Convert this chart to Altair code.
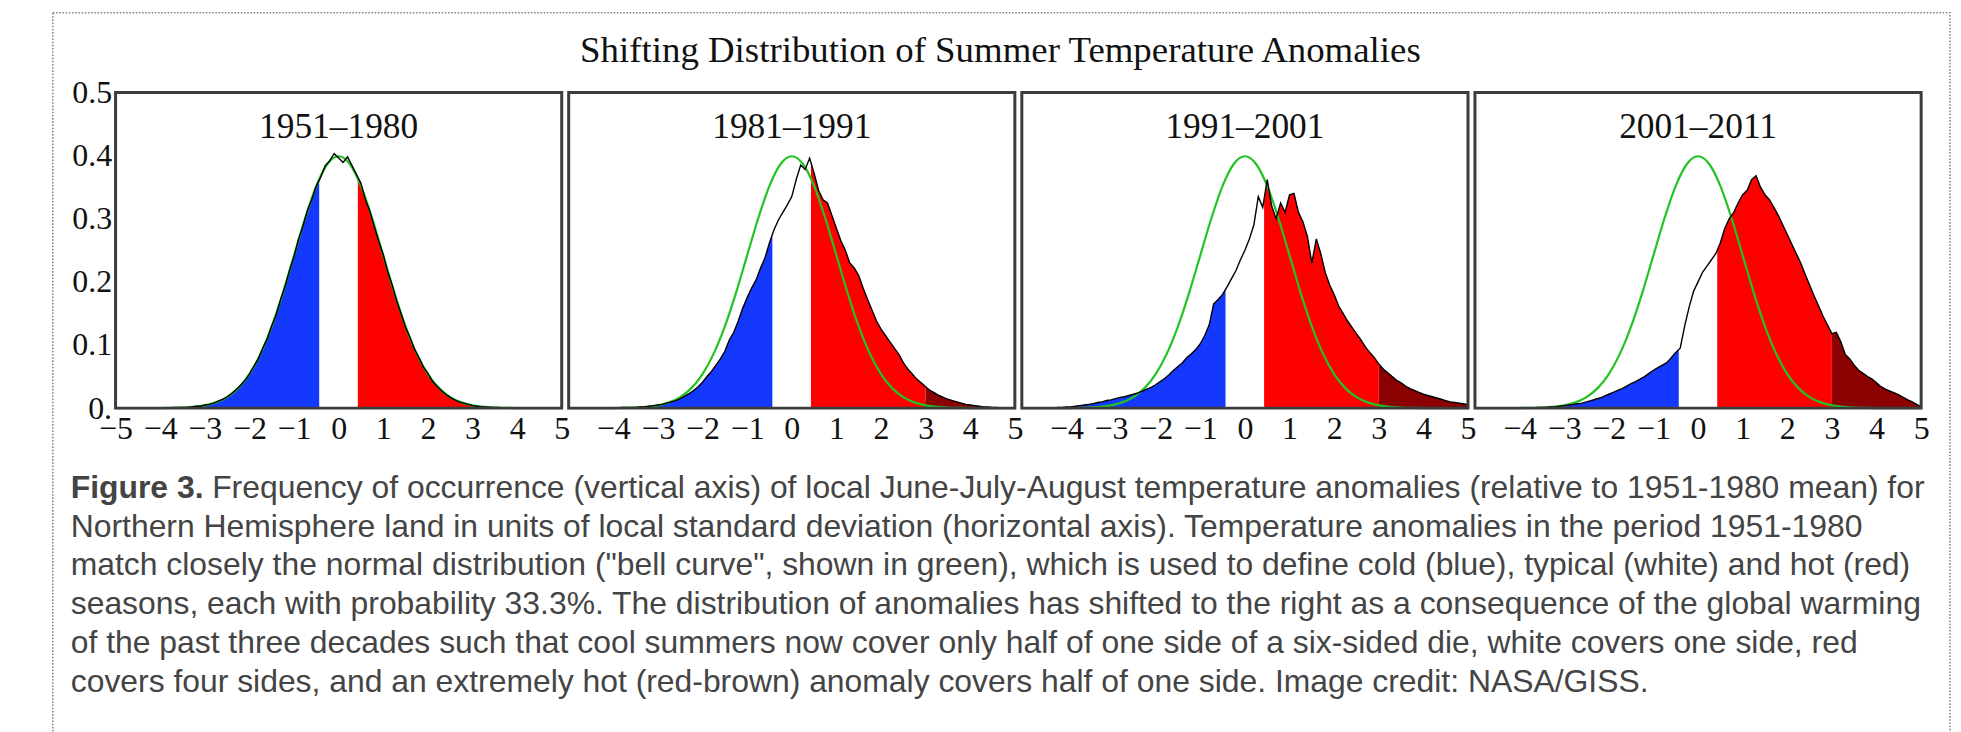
import altair as alt
import pandas as pd

SERIF = "Liberation Serif"
SANS = "Liberation Sans"

# bin centres (standard deviations)
x_grid = [round(-5 + 0.1 * k, 1) for k in range(101)]

# frequency of occurrence (x = -5.0 ... 5.0 step 0.1)
p1951 = [0, 0, 0, 0, 0, 0, 0, 0, 0, 0, 0, 0, 0, 0.001, 0.001,
         0.001, 0.001, 0.002, 0.003, 0.003, 0.005,
         0.006, 0.008, 0.011, 0.014, 0.018, 0.023, 0.029, 0.036, 0.044, 0.054,
         0.066, 0.078, 0.095, 0.110, 0.130, 0.148, 0.172, 0.193, 0.218, 0.240,
         0.267, 0.288, 0.313, 0.331, 0.352, 0.366, 0.384, 0.392, 0.403, 0.396,
         0.389, 0.398, 0.384, 0.370, 0.356, 0.330, 0.312, 0.287, 0.264, 0.243,
         0.216, 0.195, 0.170, 0.149, 0.128, 0.112, 0.093, 0.080, 0.065, 0.055,
         0.043, 0.035, 0.028, 0.022, 0.017, 0.013, 0.010, 0.008, 0.006, 0.004,
         0.003, 0.002, 0.002, 0.001, 0.001, 0.001, 0, 0, 0, 0,
         0, 0, 0, 0, 0, 0, 0, 0, 0, 0]
p1981 = [0, 0, 0, 0, 0, 0, 0, 0, 0, 0, 0, 0, 0.001, 0.001, 0.001,
         0.001, 0.002, 0.002, 0.003, 0.004, 0.005,
         0.006, 0.008, 0.010, 0.012, 0.015, 0.019, 0.023, 0.028, 0.034, 0.041,
         0.050, 0.058, 0.068, 0.078, 0.090, 0.108, 0.120, 0.138, 0.158, 0.175,
         0.190, 0.203, 0.222, 0.238, 0.262, 0.282, 0.298, 0.310, 0.322, 0.335,
         0.362, 0.385, 0.378, 0.396, 0.372, 0.345, 0.330, 0.325, 0.305, 0.285,
         0.265, 0.250, 0.230, 0.222, 0.210, 0.190, 0.172, 0.155, 0.138, 0.125,
         0.115, 0.105, 0.095, 0.085, 0.072, 0.062, 0.054, 0.046, 0.040, 0.034,
         0.028, 0.024, 0.020, 0.017, 0.014, 0.012, 0.010, 0.008, 0.006, 0.005,
         0.004, 0.003, 0.002, 0.002, 0.001, 0.001, 0, 0, 0, 0]
p1991 = [0, 0, 0, 0, 0, 0, 0, 0, 0.001, 0.001, 0.002, 0.002, 0.003, 0.004, 0.005,
         0.006, 0.007, 0.009, 0.010, 0.012, 0.013,
         0.015, 0.017, 0.018, 0.020, 0.022, 0.024, 0.027, 0.030, 0.033, 0.037,
         0.042, 0.047, 0.053, 0.060, 0.066, 0.072, 0.080, 0.086, 0.093, 0.102,
         0.115, 0.132, 0.165, 0.172, 0.180, 0.192, 0.205, 0.218, 0.235, 0.250,
         0.268, 0.290, 0.335, 0.318, 0.362, 0.320, 0.300, 0.325, 0.310, 0.338,
         0.340, 0.310, 0.295, 0.272, 0.230, 0.268, 0.245, 0.215, 0.195, 0.180,
         0.162, 0.150, 0.138, 0.128, 0.118, 0.108, 0.097, 0.088, 0.080, 0.070,
         0.062, 0.056, 0.050, 0.044, 0.040, 0.035, 0.031, 0.028, 0.025, 0.022,
         0.020, 0.018, 0.016, 0.014, 0.012, 0.010, 0.009, 0.008, 0.007, 0.005]
p2001 = [0, 0, 0, 0, 0, 0, 0, 0, 0, 0, 0, 0, 0, 0, 0.001,
         0.001, 0.001, 0.002, 0.002, 0.003, 0.004,
         0.005, 0.006, 0.007, 0.008, 0.010, 0.012, 0.014, 0.016, 0.019, 0.022,
         0.025, 0.028, 0.031, 0.035, 0.039, 0.042, 0.046, 0.050, 0.055, 0.060,
         0.064, 0.068, 0.072, 0.080, 0.088, 0.095, 0.130, 0.160, 0.185, 0.200,
         0.215, 0.225, 0.235, 0.245, 0.262, 0.285, 0.300, 0.310, 0.325, 0.338,
         0.345, 0.362, 0.368, 0.350, 0.338, 0.330, 0.318, 0.305, 0.290, 0.275,
         0.260, 0.245, 0.230, 0.212, 0.195, 0.178, 0.162, 0.146, 0.132, 0.118,
         0.120, 0.105, 0.085, 0.078, 0.068, 0.060, 0.055, 0.050, 0.046, 0.040,
         0.034, 0.030, 0.027, 0.024, 0.021, 0.017, 0.013, 0.010, 0.006, 0.002]
series = [p1951, p1981, p1991, p2001]

# green reference bell curve
green_x = [-5, -4.75, -4.5, -4.25, -4, -3.75, -3.5, -3.25, -3, -2.75, -2.5, -2.25, -2,
           -1.75, -1.5, -1.25, -1, -0.75, -0.5, -0.25, 0, 0.25, 0.5, 0.75, 1, 1.25,
           1.5, 1.75, 2, 2.25, 2.5, 2.75, 3, 3.25, 3.5, 3.75, 4, 4.25, 4.5, 4.75, 5]
green_y = [0, 0, 0, 0, 0.0001, 0.0004, 0.0009, 0.002, 0.0044, 0.0091, 0.0175, 0.0317,
           0.054, 0.0863, 0.1295, 0.1826, 0.242, 0.3011, 0.3521, 0.3867, 0.3989,
           0.3867, 0.3521, 0.3011, 0.242, 0.1826, 0.1295, 0.0863, 0.054, 0.0317,
           0.0175, 0.0091, 0.0044, 0.002, 0.0009, 0.0004, 0.0001, 0, 0, 0, 0]

period_labels = ["1951\u20131980", "1981\u20131991", "1991\u20132001", "2001\u20132011"]
x_labels_first = [-5, -4, -3, -2, -1, 0, 1, 2, 3, 4, 5]
x_labels_rest = [-4, -3, -2, -1, 0, 1, 2, 3, 4, 5]
y_labels = [0, 0.1, 0.2, 0.3, 0.4, 0.5]
inner_x_ticks = [-4, -3, -2, -1, 0, 1, 2, 3, 4]
inner_y_ticks = [0.1, 0.2, 0.3, 0.4]

band_lo = [-5, -0.43, 0.43, 3]
band_hi = [-0.43, 0.43, 3, 5]
band_colors = ["#1538ff", "#ffffff", "#ff0000", "#8b0000"]

title_text = "Shifting Distribution of Summer Temperature Anomalies"
caption_bold = "Figure 3."
caption_lines = [
    "Frequency of occurrence (vertical axis) of local June-July-August temperature anomalies (relative to 1951-1980 mean) for",
    "Northern Hemisphere land in units of local standard deviation (horizontal axis). Temperature anomalies in the period 1951-1980",
    "match closely the normal distribution (\"bell curve\", shown in green), which is used to define cold (blue), typical (white) and hot (red)",
    "seasons, each with probability 33.3%. The distribution of anomalies has shifted to the right as a consequence of the global warming",
    "of the past three decades such that cool summers now cover only half of one side of a six-sided die, white covers one side, red",
    "covers four sides, and an extremely hot (red-brown) anomaly covers half of one side. Image credit: NASA/GISS.",
]

PW, PH = 448, 317
TICK = 7
TICK_COLOR = "#777"
CAP_FS = 32

xs = alt.Scale(domain=[-5, 5], nice=False, zero=False)
ys = alt.Scale(domain=[0, 0.5], nice=False, zero=False)

bands_df = pd.DataFrame({"x0": band_lo, "x1": band_hi, "c": band_colors,
                         "y0": [0] * 4, "y1": [0.5] * 4})
green_df = pd.DataFrame({"gx": green_x, "gy": green_y})


def tick_axis(orient, values):
    return alt.Axis(orient=orient, values=values, labels=False, domain=False, grid=False,
                    ticks=True, tickSize=TICK, offset=-TICK, tickColor=TICK_COLOR,
                    tickWidth=1.5, title=None)


def panel(i):
    df = pd.DataFrame({"x": x_grid, "y": series[i]})
    xlab = alt.Axis(orient="bottom", values=(x_labels_first if i == 0 else x_labels_rest),
                    ticks=False, domain=False, grid=False, labelFont=SERIF,
                    labelFontSize=32, labelColor="#111", labelPadding=5,
                    labelFlush=False, labelOverlap=False, format="d", title=None)
    if i == 0:
        ylab = alt.Axis(orient="left", values=y_labels, ticks=False, domain=False, grid=False,
                        labelFont=SERIF, labelFontSize=32, labelColor="#111", labelPadding=4,
                        labelExpr="datum.value == 0 ? '0.' : format(datum.value, '.1f')",
                        labelOverlap=False, labelFlush=False, title=None)
    else:
        ylab = None

    bands = alt.Chart(bands_df).mark_rect().encode(
        x=alt.X("x0:Q", scale=xs, axis=xlab),
        x2="x1:Q",
        y=alt.Y("y0:Q", scale=ys, axis=ylab),
        y2="y1:Q",
        color=alt.Color("c:N", scale=None),
    )
    mask = alt.Chart(df).mark_area(color="white", opacity=1).encode(
        x=alt.X("x:Q", scale=xs, axis=tick_axis("top", inner_x_ticks)),
        y=alt.Y("y:Q", scale=ys, axis=tick_axis("left", inner_y_ticks)),
        y2=alt.datum(0.5),
    )
    green = alt.Chart(green_df).mark_line(color="#22c322", strokeWidth=2.2,
                                          interpolate="monotone").encode(
        x=alt.X("gx:Q", scale=xs, axis=tick_axis("bottom", inner_x_ticks)),
        y=alt.Y("gy:Q", scale=ys, axis=tick_axis("right", inner_y_ticks)),
    )
    black = alt.Chart(df).mark_line(color="#000000", strokeWidth=1.4).encode(
        x=alt.X("x:Q", scale=xs, axis=None),
        y=alt.Y("y:Q", scale=ys, axis=None),
    )
    box = alt.Chart(pd.DataFrame({"k": [0]})).mark_rect(
        filled=False, fillOpacity=0, stroke="#3c3c3c", strokeWidth=3
    ).encode(x=alt.X(datum=-5, scale=xs, axis=None), x2=alt.datum(5),
             y=alt.Y(datum=0, scale=ys, axis=None), y2=alt.datum(0.5))
    lab = alt.Chart(pd.DataFrame({"t": [period_labels[i]]})).mark_text(
        font=SERIF, fontSize=35.5, color="#111", baseline="middle", align="center"
    ).encode(x=alt.X(datum=0, scale=xs, axis=None),
             y=alt.Y(datum=0.445, scale=ys, axis=None), text="t:N")

    return alt.layer(bands, mask, green, black, box, lab).resolve_axis(
        x="independent", y="independent"
    ).properties(width=PW, height=PH)


panels = alt.hconcat(*[panel(i) for i in range(4)], spacing=7, bounds="flush").properties(
    title=alt.TitleParams(title_text, font=SERIF, fontSize=37, fontWeight="normal",
                          color="#111", anchor="middle", offset=6)
)

CAP_H = 234
cap_scale = alt.Scale(domain=[0, 1, 2, 3, 4, 5], paddingInner=0, paddingOuter=0)
cap_df = pd.DataFrame({"i": list(range(6)), "t": caption_lines})
CX = -45

cap_bold = alt.Chart(pd.DataFrame({"i": [0], "t": [caption_bold]})).mark_text(
    font=SANS, fontSize=CAP_FS, fontWeight="bold", color="#444", align="left", baseline="middle"
).encode(x=alt.value(CX), y=alt.Y("i:O", scale=cap_scale, axis=None), text="t:N")
cap_first = alt.Chart(cap_df[cap_df.i == 0]).mark_text(
    font=SANS, fontSize=CAP_FS, color="#444", align="left", baseline="middle", dx=142
).encode(x=alt.value(CX), y=alt.Y("i:O", scale=cap_scale, axis=None), text="t:N")
cap_rest = alt.Chart(cap_df[cap_df.i > 0]).mark_text(
    font=SANS, fontSize=CAP_FS, color="#444", align="left", baseline="middle"
).encode(x=alt.value(CX), y=alt.Y("i:O", scale=cap_scale, axis=None), text="t:N")
frame = alt.Chart(pd.DataFrame({"k": [0]})).mark_rect(
    filled=False, fillOpacity=0, stroke="#888", strokeWidth=1.6, strokeDash=[1.6, 1.6]
).encode(x=alt.value(-63), x2=alt.value(1842), y=alt.value(-457.5), y2=alt.value(400))

caption = alt.layer(frame, cap_bold, cap_first, cap_rest).properties(
    width=1813, height=CAP_H, view=alt.ViewBackground(strokeOpacity=0)
)

chart = alt.vconcat(panels, caption, spacing=377.5, bounds="flush").properties(
    padding={"left": 44, "top": 2, "right": 2, "bottom": 2}
).configure_view(strokeOpacity=0).configure(background="white")

chart.save("out.html", embed_options={"renderer": "svg", "actions": False})
